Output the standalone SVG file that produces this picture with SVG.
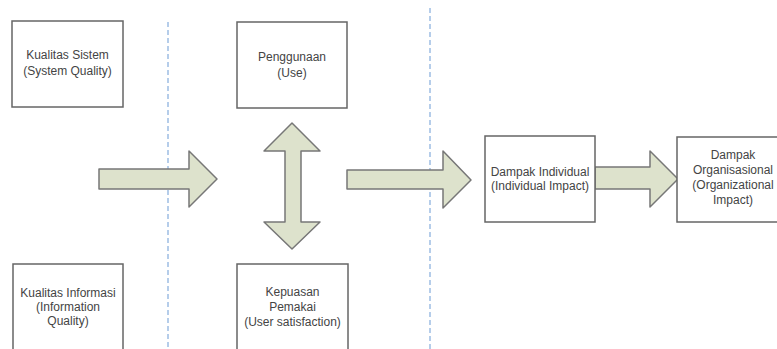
<svg xmlns="http://www.w3.org/2000/svg" width="777" height="349" viewBox="0 0 777 349">
<style>
.box{fill:#fff;stroke:#666;stroke-width:1.5}
.arr{fill:#dde2cc;stroke:#777;stroke-width:1.5;stroke-linejoin:round}
.dash{stroke:#9dbde3;stroke-width:1.5;stroke-dasharray:5,3;fill:none}
text{font-family:"Liberation Sans",Arial,sans-serif;font-size:12px;fill:#444;text-anchor:middle}
</style>
<rect width="777" height="349" fill="#fff"/>
<g id="dividers">
<line class="dash" x1="168" y1="22" x2="168" y2="349"/>
<line class="dash" x1="430" y1="8" x2="430" y2="349"/>
</g>
<g id="connectors">
<polygon class="arr" points="99,169 189,169 189,151 217,179 189,207 189,189 99,189"/>
<polygon class="arr" points="292,123 320,151 301,151 301,222 320,222 292,249 264,222 285,222 285,151 264,151"/>
<polygon class="arr" points="347,170 443,170 443,151 471,180 443,208 443,189 347,189"/>
<polygon class="arr" points="595,167 650,167 650,151 678,179 650,207 650,189 595,189"/>
</g>
<g id="n_sistem">
<rect class="box" x="12" y="21" width="111" height="86"/>
<text x="67.5" y="59">Kualitas Sistem</text>
<text x="67.5" y="75">(System Quality)</text>
</g>
<g id="n_use">
<rect class="box" x="237" y="22" width="110" height="86"/>
<text x="292" y="61">Penggunaan</text>
<text x="292" y="77">(Use)</text>
</g>
<g id="n_info">
<rect class="box" x="13" y="264" width="110" height="100"/>
<text x="68" y="297">Kualitas Informasi</text>
<text x="68" y="311">(Information</text>
<text x="68" y="325">Quality)</text>
</g>
<g id="n_satisfaction">
<rect class="box" x="237" y="264" width="111" height="100"/>
<text x="292.5" y="296">Kepuasan</text>
<text x="292.5" y="311">Pemakai</text>
<text x="292.5" y="326">(User satisfaction)</text>
</g>
<g id="n_individual">
<rect class="box" x="485" y="136" width="110" height="86"/>
<text x="540" y="176">Dampak Individual</text>
<text x="540" y="190">(Individual Impact)</text>
</g>
<g id="n_org">
<rect class="box" x="677" y="137" width="112" height="85"/>
<text x="733" y="159">Dampak</text>
<text x="733" y="174">Organisasional</text>
<text x="733" y="189">(Organizational</text>
<text x="733" y="204">Impact)</text>
</g>
</svg>
